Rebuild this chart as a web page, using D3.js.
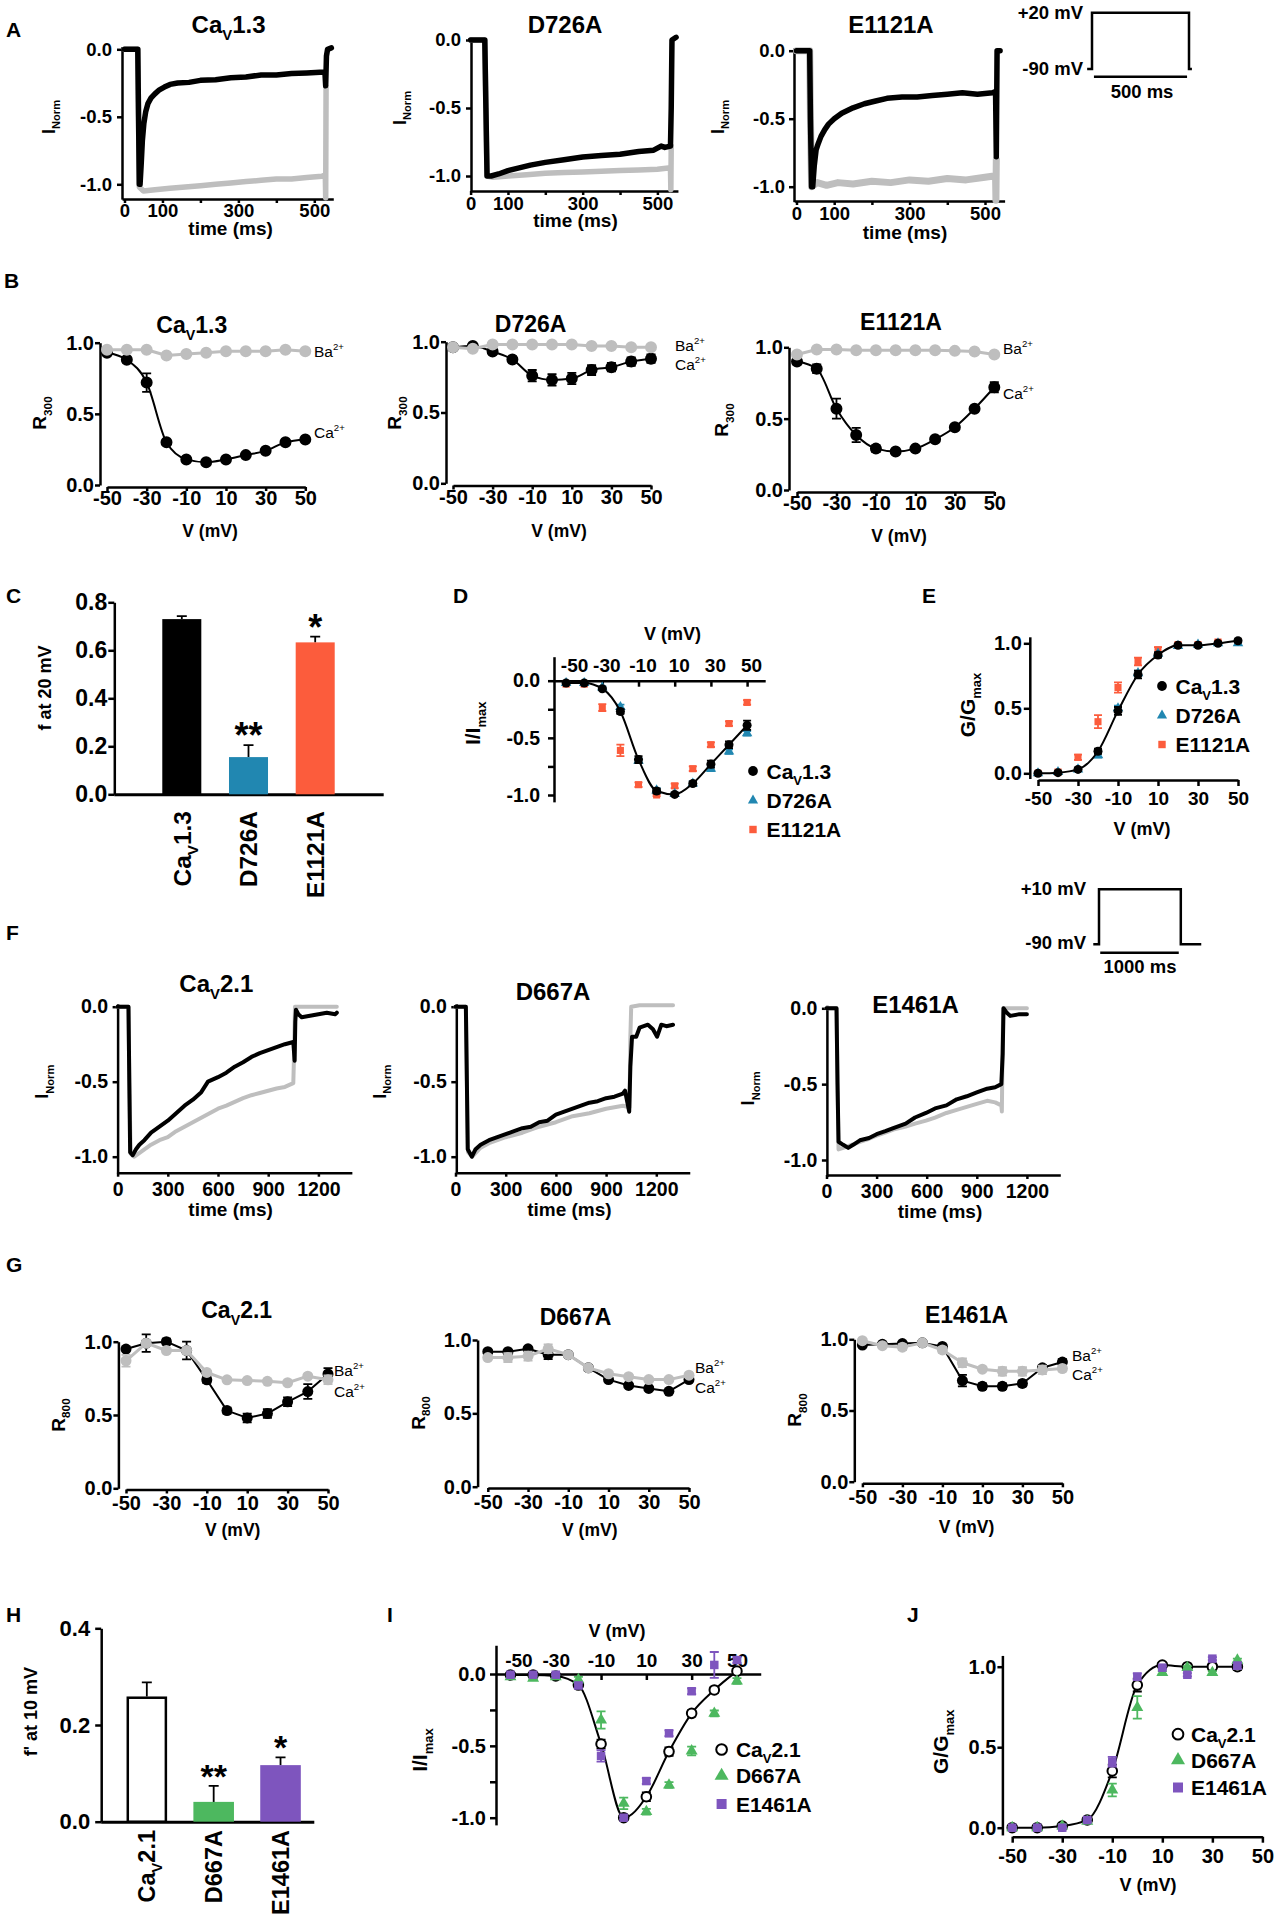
<!DOCTYPE html>
<html>
<head>
<meta charset="utf-8">
<script src="https://cdn.jsdelivr.net/npm/d3@7/dist/d3.min.js"></script>
<style>
html,body{margin:0;padding:0;background:#fff;}
svg{display:block;}
</style>
</head>
<body>
<svg id="fig" width="1278" height="1920" xmlns="http://www.w3.org/2000/svg"></svg>
<script>
// ====================== DATA ======================
const voltages = [-50,-40,-30,-20,-10,0,10,20,30,40,50];
const voltagesJ = [-50,-40,-30,-20,-10,0,10,20,30,40];

// ---- Panel A: normalized current traces [time (ms), I_Norm] ----
const traceA_CaV13_Ca = [[0,0],[35,0],[37,-0.5],[39,-1.0],[41,-1.0],[44,-0.85],[47,-0.68],[51,-0.55],[56,-0.46],[62,-0.40],[70,-0.36],[80,-0.33],[92,-0.30],[105,-0.28],[120,-0.26],[140,-0.25],[170,-0.245],[200,-0.23],[240,-0.225],[280,-0.21],[320,-0.205],[360,-0.19],[400,-0.19],[440,-0.18],[480,-0.175],[515,-0.17],[528,-0.17],[530,-0.27],[532,-0.05],[535,0],[545,0.01]];
const traceA_CaV13_Ba = [[0,0],[35,0],[37,-0.5],[39,-1.02],[50,-1.05],[80,-1.04],[120,-1.03],[160,-1.02],[200,-1.01],[240,-1.0],[280,-0.99],[320,-0.98],[360,-0.97],[400,-0.96],[440,-0.96],[480,-0.95],[520,-0.94],[529,-0.93],[530,-1.1],[531,-0.28]];
const traceA_D726A_Ca = [[0,0],[38,0],[41,-0.5],[44,-1.0],[55,-1.0],[75,-0.985],[100,-0.96],[130,-0.94],[160,-0.92],[200,-0.9],[250,-0.88],[300,-0.86],[350,-0.85],[400,-0.84],[450,-0.82],[490,-0.81],[510,-0.78],[520,-0.79],[535,-0.78],[537,-0.5],[539,0],[550,0.02]];
const traceA_D726A_Ba = [[0,0],[38,0],[41,-0.5],[44,-1.0],[60,-1.01],[100,-1.0],[150,-0.99],[200,-0.98],[250,-0.975],[300,-0.97],[350,-0.965],[400,-0.96],[450,-0.955],[500,-0.95],[535,-0.94],[536,-1.1],[537,-0.78]];
const traceA_E1121A_Ca = [[0,0],[35,0],[37,-0.5],[40,-1.0],[43,-1.0],[47,-0.85],[52,-0.73],[58,-0.68],[65,-0.63],[75,-0.58],[85,-0.54],[100,-0.5],[120,-0.46],[150,-0.42],[180,-0.39],[210,-0.37],[240,-0.35],[280,-0.34],[320,-0.34],[360,-0.33],[400,-0.32],[440,-0.31],[480,-0.32],[520,-0.31],[528,-0.3],[530,-0.78],[532,0],[540,0]];
const traceA_E1121A_Ba = [[0,0],[35,0],[37,-0.5],[40,-1.0],[55,-0.97],[80,-0.99],[110,-0.97],[150,-0.98],[200,-0.96],[250,-0.97],[300,-0.95],[350,-0.96],[400,-0.94],[450,-0.95],[500,-0.93],[528,-0.92],[529,-1.1],[530,-0.8]];
const traceTicksA = [0,100,200,300,400,500];
const traceLabelsA = [0,100,300,500];

// ---- Panel B: R300 vs V ----
const B_CaV13_Ba = [0.95,0.95,0.95,0.91,0.92,0.93,0.94,0.94,0.94,0.95,0.94];
const B_CaV13_Ca = [0.93,0.88,0.72,0.30,0.18,0.16,0.18,0.21,0.24,0.30,0.32];
const B_CaV13_CaErr = [0.01,0.02,0.065,0.01,0.01,0.01,0.01,0.01,0.01,0.01,0.01];
const B_D726A_Ba = [0.96,0.95,0.98,0.98,0.98,0.98,0.98,0.97,0.97,0.96,0.96];
const B_D726A_Ca = [0.96,0.97,0.93,0.875,0.76,0.73,0.74,0.80,0.82,0.86,0.88];
const B_D726A_CaErr = [0.01,0.01,0.015,0.02,0.04,0.04,0.04,0.035,0.03,0.03,0.03];
const B_E1121A_Ba = [0.95,0.985,0.985,0.98,0.98,0.98,0.98,0.98,0.975,0.97,0.95];
const B_E1121A_Ca = [0.90,0.85,0.57,0.385,0.29,0.27,0.29,0.355,0.44,0.57,0.72];
const B_E1121A_CaErr = [0.02,0.03,0.07,0.05,0.025,0.01,0.01,0.01,0.015,0.02,0.035];

// ---- Panel C: f at 20 mV ----
const C_labels = ["CaV1.3","D726A","E1121A"];
const C_values = [0.73,0.155,0.633];
const C_err = [0.012,0.05,0.024];
const C_sig = ["","**","*"];
const C_ticks = [0,0.2,0.4,0.6,0.8];

// ---- Panel D: I/Imax vs V ----
const D_CaV13 = [-0.02,-0.02,-0.07,-0.27,-0.69,-0.965,-0.995,-0.9,-0.73,-0.56,-0.39];
const D_CaV13_err = [0.01,0.01,0.01,0.02,0.03,0.02,0.01,0.02,0.03,0.03,0.04];
const D_D726A = [-0.02,-0.02,-0.06,-0.23,-0.70,-0.96,-0.99,-0.9,-0.77,-0.62,-0.46];
const D_D726A_err = [0.01,0.01,0.01,0.02,0.02,0.02,0.01,0.02,0.02,0.02,0.02];
const D_E1121A = [-0.03,-0.03,-0.235,-0.61,-0.91,-1.0,-0.92,-0.77,-0.56,-0.375,-0.19];
const D_E1121A_err = [0.01,0.01,0.03,0.05,0.02,0.01,0.02,0.02,0.02,0.02,0.02];

// ---- Panel E: G/Gmax vs V ----
const E_CaV13 = [0.0,0.005,0.03,0.17,0.48,0.76,0.91,0.985,0.985,1.0,1.02];
const E_CaV13_err = [0.005,0.01,0.01,0.02,0.03,0.03,0.02,0.01,0.01,0.01,0.01];
const E_D726A = [0.0,0.01,0.03,0.14,0.5,0.77,0.92,0.98,0.99,1.0,1.0];
const E_D726A_err = [0.005,0.005,0.01,0.02,0.02,0.02,0.01,0.01,0.01,0.01,0.01];
const E_E1121A = [0.0,0.01,0.123,0.397,0.66,0.86,0.95,0.99,0.99,1.01,1.01];
const E_E1121A_err = [0.005,0.005,0.02,0.05,0.04,0.03,0.02,0.01,0.01,0.01,0.01];

// ---- Panel F: traces ----
const traceF_CaV21_Ca = [[0,0],[65,0],[70,-0.5],[75,-0.97],[90,-0.99],[110,-0.95],[130,-0.92],[160,-0.89],[200,-0.84],[250,-0.8],[300,-0.76],[350,-0.71],[400,-0.66],[450,-0.62],[500,-0.57],[540,-0.5],[600,-0.47],[650,-0.44],[700,-0.4],[750,-0.37],[800,-0.335],[850,-0.31],[900,-0.29],[950,-0.27],[1000,-0.25],[1050,-0.235],[1058,-0.36],[1062,-0.1],[1066,-0.02],[1080,-0.05],[1100,-0.07],[1150,-0.06],[1200,-0.05],[1250,-0.04],[1300,-0.05],[1310,-0.04]];
const traceF_CaV21_Ba = [[0,0],[65,0],[70,-0.5],[78,-0.98],[100,-1.0],[150,-0.96],[200,-0.92],[250,-0.89],[300,-0.87],[350,-0.83],[400,-0.8],[450,-0.77],[500,-0.74],[550,-0.71],[600,-0.68],[650,-0.66],[700,-0.635],[750,-0.61],[800,-0.59],[850,-0.575],[900,-0.56],[950,-0.545],[1000,-0.535],[1050,-0.51],[1055,-0.3],[1060,0],[1100,0],[1200,0],[1310,0]];
const traceF_D667A_Ca = [[0,0],[62,0],[68,-0.5],[73,-0.95],[98,-1.0],[120,-0.95],[150,-0.92],[200,-0.89],[250,-0.87],[300,-0.85],[350,-0.83],[400,-0.81],[450,-0.8],[500,-0.77],[550,-0.76],[600,-0.72],[650,-0.7],[700,-0.68],[750,-0.66],[800,-0.64],[850,-0.63],[900,-0.61],[950,-0.6],[1000,-0.58],[1013,-0.56],[1038,-0.7],[1045,-0.4],[1055,-0.2],[1080,-0.2],[1100,-0.14],[1150,-0.12],[1180,-0.15],[1205,-0.2],[1230,-0.12],[1260,-0.13],[1300,-0.12]];
const traceF_D667A_Ba = [[0,0],[62,0],[68,-0.5],[75,-0.97],[100,-1.0],[150,-0.94],[200,-0.91],[300,-0.87],[400,-0.84],[500,-0.8],[600,-0.77],[700,-0.73],[800,-0.71],[900,-0.68],[1000,-0.66],[1040,-0.67],[1045,-0.2],[1050,0],[1100,0.01],[1200,0.01],[1300,0.01]];
const traceF_E1461A_Ca = [[0,0],[60,0],[66,-0.5],[72,-0.88],[100,-0.9],[130,-0.92],[160,-0.9],[200,-0.87],[255,-0.855],[300,-0.83],[352,-0.81],[400,-0.79],[474,-0.76],[530,-0.72],[596,-0.69],[650,-0.66],[718,-0.64],[780,-0.6],[840,-0.58],[900,-0.555],[962,-0.53],[1010,-0.52],[1047,-0.5],[1055,-0.3],[1060,0],[1080,-0.03],[1100,-0.05],[1150,-0.04],[1200,-0.04]];
const traceF_E1461A_Ba = [[0,0],[60,0],[66,-0.5],[72,-0.93],[100,-0.92],[150,-0.9],[200,-0.88],[255,-0.86],[300,-0.84],[352,-0.82],[400,-0.8],[474,-0.78],[530,-0.76],[596,-0.74],[650,-0.72],[718,-0.69],[780,-0.67],[840,-0.65],[900,-0.63],[962,-0.61],[1010,-0.62],[1047,-0.64],[1050,-0.68],[1055,-0.2],[1058,0],[1100,0],[1200,0]];
const traceTicksF = [0,300,600,900,1200];

// ---- Panel G: R800 vs V ----
const G_CaV21_Ca = [0.95,0.99,1.0,0.94,0.74,0.53,0.48,0.51,0.59,0.66,0.78];
const G_CaV21_CaErr = [0.01,0.06,0.02,0.06,0.02,0.02,0.03,0.03,0.03,0.05,0.04];
const G_CaV21_Ba = [0.87,0.99,0.94,0.94,0.79,0.74,0.735,0.73,0.72,0.765,0.74];
const G_CaV21_BaErr = [0.04,0.02,0.01,0.02,0.01,0.01,0.01,0.01,0.01,0.01,0.03];
const G_D667A_Ca = [0.92,0.92,0.94,0.90,0.90,0.81,0.73,0.69,0.67,0.65,0.73];
const G_D667A_CaErr = [0.01,0.01,0.01,0.03,0.01,0.02,0.01,0.01,0.01,0.01,0.01];
const G_D667A_Ba = [0.88,0.88,0.89,0.94,0.90,0.81,0.77,0.75,0.73,0.73,0.76];
const G_D667A_BaErr = [0.01,0.03,0.03,0.03,0.01,0.01,0.01,0.01,0.01,0.01,0.01];
const G_E1461A_Ca = [0.96,0.965,0.97,0.975,0.95,0.71,0.67,0.67,0.69,0.80,0.84];
const G_E1461A_CaErr = [0.01,0.01,0.01,0.01,0.01,0.04,0.02,0.02,0.02,0.02,0.02];
const G_E1461A_Ba = [0.99,0.955,0.945,0.975,0.925,0.835,0.79,0.775,0.775,0.785,0.795];
const G_E1461A_BaErr = [0.01,0.01,0.02,0.01,0.02,0.03,0.01,0.03,0.03,0.03,0.02];

// ---- Panel H: f' at 10 mV ----
const H_labels = ["CaV2.1","D667A","E1461A"];
const H_values = [0.259,0.041,0.117];
const H_err = [0.029,0.033,0.016];
const H_sig = ["","**","*"];
const H_ticks = [0,0.2,0.4];

// ---- Panel I: I/Imax vs V ----
const I_CaV21 = [-0.007,-0.007,-0.014,-0.077,-0.487,-1.0,-0.854,-0.54,-0.274,-0.111,0.02];
const I_CaV21_err = [0.005,0.005,0.01,0.01,0.03,0.01,0.03,0.03,0.02,0.02,0.01];
const I_D667A = [-0.02,-0.03,-0.02,-0.04,-0.32,-0.90,-0.958,-0.773,-0.536,-0.274,-0.049];
const I_D667A_err = [0.01,0.01,0.01,0.02,0.06,0.04,0.02,0.02,0.03,0.02,0.02];
const I_E1461A = [-0.005,-0.005,-0.005,-0.08,-0.57,-1.0,-0.745,-0.413,-0.12,0.063,0.097];
const I_E1461A_err = [0.005,0.005,0.005,0.02,0.04,0.01,0.02,0.02,0.02,0.09,0.02];

// ---- Panel J: G/Gmax vs V ----
const J_CaV21 = [0.0,0.0,0.01,0.048,0.352,0.886,1.01,1.0,1.0,1.0];
const J_CaV21_err = [0.005,0.005,0.005,0.01,0.04,0.04,0.01,0.01,0.02,0.02];
const J_D667A = [0.0,0.0,0.01,0.04,0.234,0.747,0.963,0.994,0.963,1.04];
const J_D667A_err = [0.005,0.005,0.01,0.01,0.04,0.07,0.01,0.01,0.01,0.01];
const J_E1461A = [0.0,0.0,0.0,0.048,0.41,0.938,0.994,0.95,1.05,1.006];
const J_E1461A_err = [0.005,0.005,0.005,0.01,0.03,0.02,0.01,0.01,0.01,0.02];

// ---- voltage protocols [time (ms), mV] ----
const protocolA = [[-25,-90],[0,-90],[0,20],[500,20],[500,-90],[515,-90]];
const protocolF = [[-70,-90],[0,-90],[0,10],[1000,10],[1000,-90],[1250,-90]];

const vTicks = [-50,-30,-10,10,30,50];

// ====================== DRAWING ======================
const svg = d3.select("#fig");
const FONT = '"Liberation Sans", Arial, Helvetica, sans-serif';
svg.attr("font-family", FONT);
const C_GRAY = "#bebebe", C_BLUE = "#2187b1", C_RED = "#fc5c3c", C_GREEN = "#4db85f", C_PURPLE = "#7e55be";

function mk(a, b, ext) {
  const k = (b[1] - a[1]) / (b[0] - a[0]);
  const f = v => a[1] + k * (v - a[0]);
  return d3.scaleLinear().domain(ext).range(ext.map(f));
}
const nameParts = s => s.startsWith("CaV") ? [["Ca"], ["V", "sub"], [s.slice(3)]] : [[s]];

function rich(parent, x, y, parts, o = {}) {
  const fs = o.fs || 18;
  const t = parent.append("text").attr("x", x).attr("y", y)
    .attr("font-size", fs).attr("font-weight", o.weight || "bold")
    .attr("text-anchor", o.anchor || "start").attr("fill", o.fill || "#000");
  if (o.rotate) t.attr("transform", `rotate(${o.rotate},${x},${y})`);
  let cur = 0;
  parts.forEach(([s, kind]) => {
    let off = 0, size = fs;
    if (kind === "sub") { off = fs * 0.3; size = fs * 0.62; }
    if (kind === "sup") { off = -fs * 0.42; size = fs * 0.62; }
    t.append("tspan").attr("font-size", size).attr("dy", off - cur).text(s);
    cur = off;
  });
  return t;
}
function styleAxis(g, fs, sw) {
  g.attr("font-family", FONT).attr("font-size", fs).attr("font-weight", "bold");
  g.select(".domain").attr("stroke", "#000").attr("stroke-width", sw);
  g.selectAll(".tick line").attr("stroke", "#000").attr("stroke-width", sw);
  g.selectAll(".tick text").attr("fill", "#000");
}
const f1 = v => (Math.abs(v) < 1e-9 ? 0 : v).toFixed(1);
const fInt = v => String(v);
const has = (arr, v) => arr.some(l => Math.abs(l - v) < 1e-9);

function leftAxis(scale, x, ticks, labels, fmt, o) {
  const ax = d3.axisLeft(scale).tickValues(ticks).tickSize(o.size).tickSizeOuter(0).tickPadding(o.pad)
    .tickFormat(v => has(labels, v) ? fmt(v) : "");
  const g = svg.append("g").attr("transform", `translate(${x},0)`).call(ax);
  styleAxis(g, o.fs, o.sw || 2.5);
  return g;
}
function bottomAxis(scale, y, ticks, labels, fmt, o) {
  const ax = d3.axisBottom(scale).tickValues(ticks).tickSize(o.size).tickSizeOuter(0).tickPadding(o.pad)
    .tickFormat(v => has(labels, v) ? fmt(v) : "");
  const g = svg.append("g").attr("transform", `translate(0,${y})`).call(ax);
  styleAxis(g, o.fs, o.sw || 2.5);
  return g;
}
function topAxis(scale, y, ticks, labels, fmt, o) {
  const ax = d3.axisTop(scale).tickValues(ticks).tickSize(o.size).tickSizeOuter(0).tickPadding(o.pad)
    .tickFormat(v => has(labels, v) ? fmt(v) : "");
  const g = svg.append("g").attr("transform", `translate(0,${y})`).call(ax);
  styleAxis(g, o.fs, o.sw || 2.5);
  if (o.dx) g.selectAll(".tick text").attr("dx", o.dx);
  return g;
}
function errorBars(x, y, xs, vals, errs, color, hw, sw) {
  const d = xs.map((v, i) => ({ v, m: vals[i], e: errs[i] })).filter(o => o.e > 0);
  svg.append("g").attr("stroke", color).attr("stroke-width", sw).attr("fill", "none")
    .selectAll("path").data(d).join("path")
    .attr("d", o => {
      const cx = x(o.v), y1 = y(o.m - o.e), y2 = y(o.m + o.e);
      return `M${cx},${y1}V${y2}M${cx - hw},${y1}H${cx + hw}M${cx - hw},${y2}H${cx + hw}`;
    });
}
function marks(x, y, xs, vals, shape, color, area, open) {
  const sel = svg.append("g").selectAll("path").data(xs.map((v, i) => [v, vals[i]])).join("path")
    .attr("transform", d => `translate(${x(d[0])},${y(d[1])})`)
    .attr("d", d3.symbol(shape, area)());
  if (open) sel.attr("fill", "#fff").attr("stroke", open).attr("stroke-width", 2);
  else sel.attr("fill", color);
}
function seriesLine(x, y, xs, vals, color, w, curve) {
  const line = d3.line().x(d => x(d[0])).y(d => y(d[1])).curve(curve || d3.curveLinear);
  svg.append("path").datum(xs.map((v, i) => [v, vals[i]])).attr("d", line)
    .attr("fill", "none").attr("stroke", color).attr("stroke-width", w).attr("stroke-linejoin", "round");
}

// ---------- trace panels ----------
function drawTrace(c) {
  leftAxis(c.y, c.yAxisX, [0, -0.5, -1], [0, -0.5, -1], f1, { fs: c.fs, size: 5, pad: c.yPad });
  bottomAxis(c.x, c.xAxisY, c.xTicks, c.xLabels, fInt, { fs: c.fs, size: 4, pad: c.xPad });
  const line = d3.line().x(d => c.x(d[0])).y(d => c.y(d[1]));
  svg.append("path").datum(c.gray).attr("d", line).attr("fill", "none").attr("stroke", C_GRAY)
    .attr("stroke-width", c.wGray).attr("stroke-linejoin", "round").attr("stroke-linecap", "round");
  svg.append("path").datum(c.black).attr("d", line).attr("fill", "none").attr("stroke", "#000")
    .attr("stroke-width", c.wBlack).attr("stroke-linejoin", "round").attr("stroke-linecap", "round");
  rich(svg, c.title[1], c.title[2], nameParts(c.title[0]), { fs: 24, anchor: "middle" });
  rich(svg, c.ylab[0], c.ylab[1], [["I"], ["Norm", "sub"]], { fs: 18, anchor: "middle", rotate: -90 });
  rich(svg, c.xlab[0], c.xlab[1], [["time (ms)"]], { fs: 19, anchor: "middle" });
}

// ---------- R vs V panels ----------
function drawR(c) {
  leftAxis(c.y, c.yAxisX, [0, 0.5, 1], [0, 0.5, 1], f1, { fs: 20, size: 5, pad: c.yPad });
  bottomAxis(c.x, c.xAxisY, vTicks, vTicks, fInt, { fs: 20, size: 4, pad: c.xPad });
  seriesLine(c.x, c.y, voltages, c.ca, "#000", 2, c.curve);
  errorBars(c.x, c.y, voltages, c.ca, c.caErr, "#000", 4.5, 1.8);
  marks(c.x, c.y, voltages, c.ca, d3.symbolCircle, "#000", c.area);
  seriesLine(c.x, c.y, voltages, c.ba, C_GRAY, 3);
  if (c.baErr) errorBars(c.x, c.y, voltages, c.ba, c.baErr, C_GRAY, 4.5, 1.8);
  marks(c.x, c.y, voltages, c.ba, d3.symbolCircle, C_GRAY, c.area);
  rich(svg, c.title[1], c.title[2], nameParts(c.title[0]), { fs: 23, anchor: "middle" });
  rich(svg, c.ylab[0], c.ylab[1], [["R"], [c.sub, "sub"]], { fs: 19, anchor: "middle", rotate: -90 });
  rich(svg, c.xlab[0], c.xlab[1], [["V (mV)"]], { fs: 17.5, anchor: "middle" });
  rich(svg, c.baLab[0], c.baLab[1], [["Ba"], ["2+", "sup"]], { fs: 15.5, weight: "normal" });
  rich(svg, c.caLab[0], c.caLab[1], [["Ca"], ["2+", "sup"]], { fs: 15.5, weight: "normal" });
}

// ---------- bar panels ----------
function drawBars(c) {
  const xb = d3.scaleBand().domain(c.labels).range(c.range).paddingInner(c.pi).paddingOuter(c.po);
  leftAxis(c.y, c.yAxisX, c.ticks, c.ticks, f1, { fs: c.fs, size: 6, pad: c.yPad });
  svg.append("line").attr("x1", c.yAxisX).attr("x2", c.axisEnd).attr("y1", c.y(0) + 0.5).attr("y2", c.y(0) + 0.5)
    .attr("stroke", "#000").attr("stroke-width", 3);
  c.labels.forEach((lab, i) => {
    const v = c.values[i], e = c.err[i], bx = xb(lab), cx = bx + xb.bandwidth() / 2;
    svg.append("path").attr("d", `M${cx},${c.y(v)}V${c.y(v + e)}M${cx - 5},${c.y(v + e)}H${cx + 5}`)
      .attr("stroke", "#000").attr("stroke-width", 1.8).attr("fill", "none");
    const r = svg.append("rect").attr("x", bx).attr("width", xb.bandwidth())
      .attr("y", c.y(v)).attr("height", c.y(0) - c.y(v)).attr("fill", c.colors[i]);
    if (c.stroke[i]) r.attr("stroke", "#000").attr("stroke-width", 2.5)
      .attr("x", bx + 1.25).attr("width", xb.bandwidth() - 2.5).attr("y", c.y(v) + 1.25).attr("height", c.y(0) - c.y(v) - 1.25);
    if (c.sig[i]) rich(svg, cx, c.y(v + e) - c.sigGap, [[c.sig[i]]], { fs: c.sigFs, anchor: "middle" });
    rich(svg, cx + c.catFs * 0.36, c.catTop, nameParts(lab), { fs: c.catFs, anchor: "end", rotate: -90 });
  });
  rich(svg, c.ylab[0], c.ylab[1], [[c.ylabText]], { fs: 18, anchor: "middle", rotate: -90 });
}

// ---------- legend ----------
function legend(items, mx, tx, rows, fs) {
  items.forEach((it, i) => {
    const cy = rows[i];
    const p = svg.append("path").attr("transform", `translate(${mx},${cy})`).attr("d", d3.symbol(it.shape, it.area)());
    if (it.open) p.attr("fill", "#fff").attr("stroke", "#000").attr("stroke-width", 2);
    else p.attr("fill", it.color);
    rich(svg, tx, cy + fs * 0.36, nameParts(it.name), { fs });
  });
}

// ================= Panel letters =================
[["A", 6, 37], ["B", 4, 288], ["C", 6, 603], ["D", 453, 603], ["E", 922, 603], ["F", 6, 940],
 ["G", 6, 1272], ["H", 6, 1622], ["I", 387, 1622], ["J", 907, 1622]]
  .forEach(([s, x, y]) => rich(svg, x, y, [[s]], { fs: 21 }));

// ================= Row A =================
drawTrace({ x: mk([0, 124.5], [500, 314.3], [-6.5, 550]), y: mk([0, 49.3], [-1, 184.3], [0.02, -1.11]),
  yAxisX: 122, xAxisY: 199, xTicks: traceTicksA, xLabels: traceLabelsA, fs: 18.5, yPad: 5, xPad: 1,
  black: traceA_CaV13_Ca, gray: traceA_CaV13_Ba, wBlack: 5.5, wGray: 5.5,
  title: ["CaV1.3", 228.6, 33], ylab: [55, 117], xlab: [230.6, 235] });
drawTrace({ x: mk([0, 470.6], [500, 657.4], [0, 555]), y: mk([0, 40], [-1, 176], [0.02, -1.11]),
  yAxisX: 471, xAxisY: 191, xTicks: traceTicksA, xLabels: traceLabelsA, fs: 18.5, yPad: 5, xPad: 1.5,
  black: traceA_D726A_Ca, gray: traceA_D726A_Ba, wBlack: 5.5, wGray: 5.5,
  title: ["D726A", 565, 33], ylab: [406, 108], xlab: [575.5, 227] });
drawTrace({ x: mk([0, 796.5], [500, 985], [-6, 552]), y: mk([0, 50.7], [-1, 186.7], [0.02, -1.11]),
  yAxisX: 794, xAxisY: 201, xTicks: traceTicksA, xLabels: traceLabelsA, fs: 18.5, yPad: 4, xPad: 2,
  black: traceA_E1121A_Ca, gray: traceA_E1121A_Ba, wBlack: 5.5, wGray: 7,
  title: ["E1121A", 891, 33], ylab: [724, 117], xlab: [905, 239] });

// protocol A
(function () {
  const x = mk([0, 1092], [500, 1189], [0, 500]), y = mk([-90, 69], [20, 12.7], [-90, 20]);
  svg.append("path").datum(protocolA)
    .attr("d", d3.line().x(d => x(d[0])).y(d => y(d[1]))).attr("fill", "none").attr("stroke", "#000").attr("stroke-width", 2.5);
  svg.append("line").attr("x1", x(10)).attr("x2", x(490)).attr("y1", 76.7).attr("y2", 76.7).attr("stroke", "#000").attr("stroke-width", 2.5);
  rich(svg, 1083, 18.5, [["+20 mV"]], { fs: 18.5, anchor: "end" });
  rich(svg, 1083, 75, [["-90 mV"]], { fs: 18.5, anchor: "end" });
  rich(svg, 1142, 98, [["500 ms"]], { fs: 18.5, anchor: "middle" });
})();

// ================= Row B =================
drawR({ x: mk([-50, 107], [50, 305.3], [-50, 50]), y: mk([0, 485], [1, 342.7], [0, 1]), yAxisX: 100, xAxisY: 487,
  yPad: 1, xPad: 0, ca: B_CaV13_Ca, caErr: B_CaV13_CaErr, ba: B_CaV13_Ba, area: 113, curve: d3.curveMonotoneX,
  title: ["CaV1.3", 191.8, 333], ylab: [46, 413], sub: "300", xlab: [210, 537], baLab: [314, 357], caLab: [314, 438] });
drawR({ x: mk([-50, 453], [50, 651], [-50, 50]), y: mk([0, 483.3], [1, 341.7], [0, 1]), yAxisX: 446, xAxisY: 485.5,
  yPad: 1, xPad: 0, ca: B_D726A_Ca, caErr: B_D726A_CaErr, ba: B_D726A_Ba, area: 113, curve: d3.curveMonotoneX,
  title: ["D726A", 530.6, 331.7], ylab: [401, 413], sub: "300", xlab: [559, 537], baLab: [675, 351], caLab: [675, 370] });
drawR({ x: mk([-50, 797], [50, 994.3], [-50, 50]), y: mk([0, 490], [1, 347.3], [0, 1]), yAxisX: 789, xAxisY: 492,
  yPad: 1, xPad: 0, ca: B_E1121A_Ca, caErr: B_E1121A_CaErr, ba: B_E1121A_Ba, area: 113, curve: d3.curveMonotoneX,
  title: ["E1121A", 901, 330], ylab: [728, 420], sub: "300", xlab: [899, 542], baLab: [1003, 353.5], caLab: [1003, 398.5] });

// ================= Panel C =================
drawBars({ labels: C_labels, values: C_values, err: C_err, sig: C_sig, ticks: C_ticks,
  y: mk([0, 794.3], [0.8, 602.3], [0, 0.8]), yAxisX: 114.3, axisEnd: 383.7, fs: 23, yPad: 1,
  range: [148.45, 348.55], pi: 0.415, po: 0.2075, colors: ["#000", C_BLUE, C_RED], stroke: [false, false, false],
  sigFs: 36, sigGap: -3, catFs: 24.5, catTop: 811, ylab: [51, 688], ylabText: "f at 20 mV" });

// ================= Panel D =================
(function () {
  const x = mk([0, 656.6], [50, 747.1], [-57, 60]), y = mk([0, 680.7], [-1, 795], [0.21, -1.06]);
  leftAxis(y, 554, [0, -0.25, -0.5, -0.75, -1], [0, -0.5, -1], f1, { fs: 19.5, size: 6, pad: 8 });
  topAxis(x, y(0), vTicks, vTicks, fInt, { fs: 19, size: -6, pad: 9, dx: d => d === -50 ? 8 : 4 });
  errorBars(x, y, voltages, D_E1121A, D_E1121A_err, C_RED, 4, 1.8);
  marks(x, y, voltages, D_E1121A, d3.symbolSquare, C_RED, 50);
  errorBars(x, y, voltages, D_D726A, D_D726A_err, C_BLUE, 4, 1.8);
  marks(x, y, voltages, D_D726A, d3.symbolTriangle, C_BLUE, 48);
  seriesLine(x, y, voltages, D_CaV13, "#000", 2, d3.curveMonotoneX);
  errorBars(x, y, voltages, D_CaV13, D_CaV13_err, "#000", 4, 1.8);
  marks(x, y, voltages, D_CaV13, d3.symbolCircle, "#000", 64);
  rich(svg, 672.6, 640, [["V (mV)"]], { fs: 18, anchor: "middle" });
  rich(svg, 479.6, 723.3, [["I/I"], ["max", "sub"]], { fs: 21, anchor: "middle", rotate: -90 });
  legend([{ name: "CaV1.3", shape: d3.symbolCircle, area: 75, color: "#000" },
          { name: "D726A", shape: d3.symbolTriangle, area: 45, color: C_BLUE },
          { name: "E1121A", shape: d3.symbolSquare, area: 55, color: C_RED }], 753, 766.5, [771, 800.5, 829.5], 21);
})();

// ================= Panel E =================
(function () {
  const x = mk([-50, 1038], [50, 1238], [-50, 50]), y = mk([0, 773.3], [1, 643.3], [-0.04, 1.05]);
  leftAxis(y, 1029.8, [0, 0.5, 1], [0, 0.5, 1], f1, { fs: 20, size: 6, pad: 2 });
  bottomAxis(x, 780, vTicks, vTicks, fInt, { fs: 19, size: 6, pad: 6 });
  errorBars(x, y, voltages, E_E1121A, E_E1121A_err, C_RED, 4, 1.8);
  marks(x, y, voltages, E_E1121A, d3.symbolSquare, C_RED, 50);
  errorBars(x, y, voltages, E_D726A, E_D726A_err, C_BLUE, 4, 1.8);
  marks(x, y, voltages, E_D726A, d3.symbolTriangle, C_BLUE, 48);
  seriesLine(x, y, voltages, E_CaV13, "#000", 2, d3.curveMonotoneX);
  errorBars(x, y, voltages, E_CaV13, E_CaV13_err, "#000", 4, 1.8);
  marks(x, y, voltages, E_CaV13, d3.symbolCircle, "#000", 64);
  rich(svg, 1142, 835, [["V (mV)"]], { fs: 18, anchor: "middle" });
  rich(svg, 974.7, 705, [["G/G"], ["max", "sub"]], { fs: 21, anchor: "middle", rotate: -90 });
  legend([{ name: "CaV1.3", shape: d3.symbolCircle, area: 75, color: "#000" },
          { name: "D726A", shape: d3.symbolTriangle, area: 45, color: C_BLUE },
          { name: "E1121A", shape: d3.symbolSquare, area: 55, color: C_RED }], 1162, 1175.5, [686, 715.5, 744.5], 21);
})();

// ================= Row F =================
drawTrace({ x: mk([0, 117.6], [1200, 318.4], [0, 1400]), y: mk([0, 1006.7], [-1, 1156.7], [0.02, -1.11]),
  yAxisX: 117.6, xAxisY: 1172.7, xTicks: traceTicksF, xLabels: traceTicksF, fs: 19.5, yPad: 4.5, xPad: 5,
  black: traceF_CaV21_Ca, gray: traceF_CaV21_Ba, wBlack: 4, wGray: 4,
  title: ["CaV2.1", 216.3, 991.7], ylab: [48.2, 1081.7], xlab: [230.6, 1216] });
drawTrace({ x: mk([0, 455.5], [1200, 656.3], [0, 1400]), y: mk([0, 1006.7], [-1, 1156.7], [0.02, -1.11]),
  yAxisX: 456.3, xAxisY: 1172.7, xTicks: traceTicksF, xLabels: traceTicksF, fs: 19.5, yPad: 4.5, xPad: 5,
  black: traceF_D667A_Ca, gray: traceF_D667A_Ba, wBlack: 4, wGray: 4,
  title: ["D667A", 553, 1000], ylab: [385.7, 1081.7], xlab: [569.4, 1216] });
drawTrace({ x: mk([0, 826.5], [1200, 1026.9], [0, 1400]), y: mk([0, 1008.3], [-1, 1160], [0.02, -1.11]),
  yAxisX: 826.9, xAxisY: 1175, xTicks: traceTicksF, xLabels: traceTicksF, fs: 19.5, yPad: 4.5, xPad: 5,
  black: traceF_E1461A_Ca, gray: traceF_E1461A_Ba, wBlack: 4, wGray: 4,
  title: ["E1461A", 915.5, 1013.3], ylab: [754.3, 1088.3], xlab: [940, 1218] });

// protocol F
(function () {
  const x = mk([0, 1099], [1000, 1180.8], [0, 1000]), y = mk([-90, 944.3], [10, 889.3], [-90, 10]);
  svg.append("path").datum(protocolF)
    .attr("d", d3.line().x(d => x(d[0])).y(d => y(d[1]))).attr("fill", "none").attr("stroke", "#000").attr("stroke-width", 2.5);
  svg.append("line").attr("x1", x(15)).attr("x2", x(975)).attr("y1", 952.7).attr("y2", 952.7).attr("stroke", "#000").attr("stroke-width", 2.5);
  rich(svg, 1086, 895, [["+10 mV"]], { fs: 18.5, anchor: "end" });
  rich(svg, 1086, 949, [["-90 mV"]], { fs: 18.5, anchor: "end" });
  rich(svg, 1140, 973, [["1000 ms"]], { fs: 18.5, anchor: "middle" });
})();

// ================= Row G =================
drawR({ x: mk([-50, 126], [50, 328], [-50, 50]), y: mk([0, 1488.3], [1, 1341.7], [0, 1]), yAxisX: 118.4, xAxisY: 1489.5,
  yPad: 1, xPad: 2.5, ca: G_CaV21_Ca, caErr: G_CaV21_CaErr, ba: G_CaV21_Ba, baErr: G_CaV21_BaErr, area: 95,
  title: ["CaV2.1", 236.7, 1318.3], ylab: [64.5, 1415], sub: "800", xlab: [232.7, 1536], baLab: [334, 1376], caLab: [334, 1397] });
drawR({ x: mk([-50, 487.8], [50, 689], [-50, 50]), y: mk([0, 1486.7], [1, 1340], [0, 1]), yAxisX: 477.6, xAxisY: 1488,
  yPad: 1, xPad: 2.5, ca: G_D667A_Ca, caErr: G_D667A_CaErr, ba: G_D667A_Ba, baErr: G_D667A_BaErr, area: 95,
  title: ["D667A", 575.5, 1325], ylab: [424.5, 1413], sub: "800", xlab: [589.8, 1536], baLab: [695, 1372.5], caLab: [695, 1392.5] });
drawR({ x: mk([-50, 862.4], [50, 1062.4], [-50, 50]), y: mk([0, 1481.7], [1, 1339.3], [0, 1]), yAxisX: 854.3, xAxisY: 1483.3,
  yPad: 1, xPad: 2.5, ca: G_E1461A_Ca, caErr: G_E1461A_CaErr, ba: G_E1461A_Ba, baErr: G_E1461A_BaErr, area: 95,
  title: ["E1461A", 966.5, 1323.3], ylab: [801, 1410], sub: "800", xlab: [966.5, 1533], baLab: [1072, 1360.5], caLab: [1072, 1380] });

// ================= Panel H =================
drawBars({ labels: H_labels, values: H_values, err: H_err, sig: H_sig, ticks: H_ticks,
  y: mk([0, 1821.7], [0.4, 1628.3], [0, 0.4]), yAxisX: 101.2, axisEnd: 314.3, fs: 22, yPad: 5,
  range: [113.4, 313.95], pi: 0.393, po: 0.1965, colors: ["#fff", C_GREEN, C_PURPLE], stroke: [true, false, false],
  sigFs: 34, sigGap: -2, catFs: 23.5, catTop: 1830, ylab: [36.7, 1711.7], ylabText: "f' at 10 mV" });

// ================= Panel I =================
(function () {
  const x = mk([0, 623.7], [50, 736.95], [-56.5, 60.5]), y = mk([0, 1674], [-1, 1817.7], [0.2, -1.05]);
  leftAxis(y, 496, [0, -0.25, -0.5, -0.75, -1], [0, -0.5, -1], f1, { fs: 20, size: 6, pad: 4 });
  topAxis(x, y(0), vTicks, vTicks, fInt, { fs: 19, size: -6, pad: 7.5, dx: d => d === -50 ? 8 : 0 });
  seriesLine(x, y, voltages, I_CaV21, "#000", 2, d3.curveMonotoneX);
  errorBars(x, y, voltages, I_CaV21, I_CaV21_err, "#000", 4.5, 1.8);
  marks(x, y, voltages, I_CaV21, d3.symbolCircle, "#fff", 72, "#000");
  errorBars(x, y, voltages, I_D667A, I_D667A_err, C_GREEN, 4.5, 1.8);
  marks(x, y, voltages, I_D667A, d3.symbolTriangle, C_GREEN, 62);
  errorBars(x, y, voltages, I_E1461A, I_E1461A_err, C_PURPLE, 4.5, 1.8);
  marks(x, y, voltages, I_E1461A, d3.symbolSquare, C_PURPLE, 72);
  rich(svg, 617, 1637, [["V (mV)"]], { fs: 18, anchor: "middle" });
  rich(svg, 426.5, 1750, [["I/I"], ["max", "sub"]], { fs: 21, anchor: "middle", rotate: -90 });
  legend([{ name: "CaV2.1", shape: d3.symbolCircle, area: 90, open: true },
          { name: "D667A", shape: d3.symbolTriangle, area: 85, color: C_GREEN },
          { name: "E1461A", shape: d3.symbolSquare, area: 100, color: C_PURPLE }], 721.6, 735.9, [1749.5, 1775.8, 1804], 21);
})();

// ================= Panel J =================
(function () {
  const x = mk([-50, 1012.2], [50, 1262.4], [-50, 50]), y = mk([0, 1827.7], [1, 1666.7], [-0.045, 1.07]);
  leftAxis(y, 1002.4, [0, 0.5, 1], [0, 0.5, 1], f1, { fs: 20, size: 5, pad: 1 });
  bottomAxis(x, 1836.7, vTicks, vTicks, fInt, { fs: 20, size: 6, pad: 6 });
  seriesLine(x, y, voltagesJ, J_CaV21, "#000", 2, d3.curveMonotoneX);
  errorBars(x, y, voltagesJ, J_CaV21, J_CaV21_err, "#000", 4.5, 1.8);
  marks(x, y, voltagesJ, J_CaV21, d3.symbolCircle, "#fff", 72, "#000");
  errorBars(x, y, voltagesJ, J_D667A, J_D667A_err, C_GREEN, 4.5, 1.8);
  marks(x, y, voltagesJ, J_D667A, d3.symbolTriangle, C_GREEN, 62);
  errorBars(x, y, voltagesJ, J_E1461A, J_E1461A_err, C_PURPLE, 4.5, 1.8);
  marks(x, y, voltagesJ, J_E1461A, d3.symbolSquare, C_PURPLE, 72);
  rich(svg, 1148, 1891, [["V (mV)"]], { fs: 18, anchor: "middle" });
  rich(svg, 948, 1741.7, [["G/G"], ["max", "sub"]], { fs: 21, anchor: "middle", rotate: -90 });
  legend([{ name: "CaV2.1", shape: d3.symbolCircle, area: 90, open: true },
          { name: "D667A", shape: d3.symbolTriangle, area: 85, color: C_GREEN },
          { name: "E1461A", shape: d3.symbolSquare, area: 100, color: C_PURPLE }], 1178, 1191, [1734.2, 1760.2, 1787.5], 21);
})();
</script>
</body>
</html>
